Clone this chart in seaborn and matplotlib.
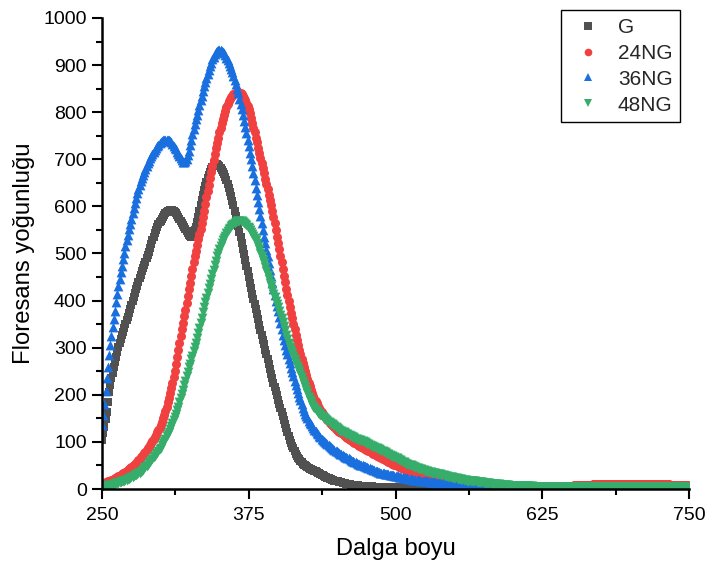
import numpy as np
import pandas as pd
import matplotlib
matplotlib.use("Agg")
import matplotlib.pyplot as plt
from matplotlib.lines import Line2D
from matplotlib.ticker import MultipleLocator
import seaborn as sns

# Emission wavelength grid (nm), 1 nm step
wavelength = np.arange(250, 751, 1)

# Fluorescence intensity for each sample, one value per wavelength (rows of 10 nm)
g = [
    104, 118, 132, 148, 164, 185, 205, 221, 236, 247,
    258, 269, 280, 291, 302, 310, 318, 326, 334, 342,
    350, 358, 366, 374, 383, 391, 400, 408, 416, 424,
    432, 440, 448, 455, 462, 469, 476, 483, 490, 497,
    504, 512, 520, 528, 536, 543, 550, 556, 562, 566,
    570, 574, 578, 582, 585, 588, 590, 591, 592, 592,
    592, 590, 588, 585, 582, 578, 574, 570, 565, 561,
    556, 551, 547, 543, 539, 537, 536, 538, 542, 549,
    556, 566, 578, 590, 602, 613, 624, 634, 643, 652,
    660, 667, 674, 679, 684, 687, 690, 690, 690, 688,
    686, 682, 678, 673, 668, 662, 656, 648, 640, 631,
    622, 612, 602, 591, 580, 569, 558, 546, 534, 522,
    510, 498, 486, 474, 462, 450, 438, 426, 415, 404,
    393, 382, 371, 360, 349, 338, 328, 317, 307, 296,
    286, 275, 265, 255, 245, 235, 226, 217, 208, 199,
    190, 181, 173, 164, 156, 147, 138, 129, 120, 112,
    104, 98, 92, 86, 80, 75, 70, 66, 63, 60,
    57, 54, 52, 50, 48, 46, 45, 43, 42, 41,
    40, 39, 38, 36, 35, 33, 32, 30, 29, 27,
    26, 25, 24, 23, 22, 21, 20, 19, 18, 17,
    16, 16, 15, 14, 14, 13, 12, 12, 11, 11,
    10, 10, 9, 9, 9, 8, 8, 8, 8, 7,
    7, 7, 7, 7, 7, 6, 6, 6, 6, 6,
    6, 5, 5, 5, 5, 5, 5, 5, 5, 5,
    5, 5, 5, 4, 4, 4, 4, 4, 4, 4,
    4, 4, 4, 4, 4, 4, 4, 4, 4, 4,
    4, 4, 4, 4, 4, 4, 4, 3, 3, 3,
    3, 3, 3, 3, 3, 3, 3, 3, 3, 3,
    3, 3, 3, 3, 3, 3, 3, 3, 3, 3,
    3, 3, 3, 3, 3, 3, 3, 3, 3, 3,
    3, 3, 3, 3, 3, 2, 2, 2, 2, 2,
    2, 2, 2, 2, 2, 2, 2, 2, 2, 2,
    2, 2, 2, 2, 2, 2, 2, 2, 2, 2,
    2, 2, 2, 2, 2, 2, 2, 2, 2, 2,
    2, 2, 2, 2, 2, 2, 2, 2, 2, 2,
    2, 2, 2, 2, 2, 2, 2, 2, 2, 2,
    2, 2, 2, 2, 2, 2, 2, 2, 2, 2,
    2, 2, 2, 2, 2, 2, 2, 2, 2, 2,
    2, 2, 2, 2, 2, 2, 2, 2, 2, 2,
    2, 2, 2, 2, 2, 2, 2, 2, 2, 2,
    2, 2, 2, 2, 2, 2, 2, 2, 2, 2,
    2, 2, 2, 2, 2, 2, 2, 2, 2, 2,
    2, 2, 2, 2, 2, 2, 2, 2, 2, 2,
    2, 2, 2, 2, 2, 2, 2, 2, 2, 2,
    2, 2, 2, 2, 2, 2, 2, 2, 2, 2,
    2, 2, 2, 2, 2, 2, 2, 2, 2, 2,
    2, 2, 2, 2, 2, 2, 2, 2, 2, 2,
    2, 2, 2, 2, 2, 2, 2, 2, 2, 2,
    2, 2, 2, 2, 2, 2, 2, 2, 2, 2,
    2, 2, 2, 2, 2, 2, 2, 2, 2, 2,
    2,
]

ng24 = [
    12, 12, 13, 14, 15, 16, 17, 18, 19, 20,
    22, 23, 24, 25, 27, 28, 30, 31, 33, 35,
    37, 38, 40, 42, 44, 46, 48, 50, 53, 55,
    58, 61, 64, 67, 70, 73, 76, 79, 83, 86,
    90, 93, 97, 101, 106, 110, 115, 120, 125, 130,
    136, 143, 150, 158, 166, 175, 184, 193, 203, 214,
    225, 238, 251, 265, 280, 295, 310, 324, 339, 353,
    367, 380, 394, 409, 424, 438, 453, 467, 481, 494,
    506, 518, 530, 541, 553, 565, 578, 591, 605, 619,
    633, 646, 660, 673, 686, 698, 711, 723, 735, 746,
    757, 767, 777, 786, 795, 803, 810, 817, 823, 828,
    832, 835, 838, 840, 841, 842, 842, 841, 840, 838,
    835, 831, 826, 820, 814, 806, 798, 788, 778, 767,
    757, 746, 736, 725, 714, 703, 692, 681, 670, 659,
    648, 636, 625, 613, 602, 590, 577, 564, 550, 536,
    522, 509, 495, 481, 467, 453, 439, 425, 412, 399,
    386, 374, 362, 350, 339, 328, 317, 306, 296, 286,
    276, 267, 259, 250, 242, 234, 226, 218, 211, 204,
    198, 192, 187, 182, 177, 172, 168, 164, 160, 156,
    153, 150, 147, 144, 141, 138, 136, 133, 131, 128,
    126, 124, 122, 120, 118, 116, 114, 112, 110, 108,
    106, 104, 103, 101, 100, 98, 97, 95, 94, 92,
    91, 89, 88, 86, 85, 83, 82, 81, 80, 78,
    77, 75, 74, 72, 71, 70, 69, 67, 66, 64,
    63, 62, 61, 59, 58, 57, 56, 54, 53, 52,
    51, 50, 49, 47, 46, 45, 44, 43, 42, 41,
    40, 39, 38, 37, 36, 35, 35, 34, 33, 32,
    32, 31, 30, 29, 29, 28, 27, 26, 26, 25,
    25, 24, 24, 23, 22, 21, 21, 20, 20, 19,
    19, 18, 18, 17, 17, 16, 16, 15, 15, 14,
    14, 13, 13, 12, 12, 12, 12, 11, 11, 10,
    10, 10, 10, 9, 9, 9, 9, 8, 8, 8,
    8, 8, 8, 7, 7, 7, 7, 7, 7, 6,
    6, 6, 6, 6, 6, 6, 6, 6, 5, 5,
    5, 5, 5, 5, 5, 5, 5, 5, 5, 5,
    5, 5, 5, 5, 5, 5, 5, 5, 5, 5,
    5, 5, 5, 5, 5, 5, 5, 5, 5, 5,
    5, 5, 5, 5, 5, 5, 5, 5, 5, 5,
    5, 5, 5, 5, 6, 6, 6, 6, 6, 6,
    6, 6, 6, 7, 7, 7, 7, 7, 7, 7,
    7, 7, 8, 8, 8, 8, 8, 8, 8, 8,
    9, 9, 9, 9, 9, 9, 9, 9, 10, 10,
    10, 10, 10, 10, 10, 10, 10, 11, 11, 11,
    11, 11, 11, 11, 11, 11, 11, 11, 11, 11,
    11, 11, 11, 11, 11, 11, 11, 11, 11, 11,
    11, 11, 11, 11, 11, 11, 11, 11, 11, 11,
    11, 11, 11, 11, 10, 10, 10, 10, 10, 10,
    10, 10, 10, 10, 10, 10, 10, 10, 10, 10,
    10, 10, 10, 10, 9, 9, 9, 9, 9, 9,
    9, 9, 9, 9, 9, 9, 9, 9, 9, 9,
    9,
]

ng36 = [
    135, 158, 180, 208, 235, 260, 285, 305, 325, 343,
    360, 378, 396, 413, 430, 445, 460, 474, 488, 502,
    515, 528, 540, 551, 562, 574, 585, 597, 608, 618,
    628, 637, 645, 653, 660, 667, 674, 680, 686, 692,
    697, 702, 707, 712, 716, 720, 724, 728, 731, 734,
    736, 738, 740, 741, 742, 742, 742, 741, 739, 736,
    733, 729, 725, 721, 716, 711, 706, 702, 698, 695,
    694, 696, 701, 709, 718, 730, 742, 754, 765, 775,
    785, 795, 805, 815, 825, 835, 845, 855, 864, 873,
    882, 890, 898, 905, 912, 918, 923, 927, 930, 931,
    932, 931, 930, 928, 925, 921, 916, 911, 905, 899,
    892, 885, 877, 869, 860, 850, 840, 829, 818, 806,
    793, 781, 768, 755, 742, 728, 714, 700, 685, 670,
    655, 640, 625, 610, 594, 579, 564, 550, 536, 522,
    508, 494, 480, 466, 452, 438, 425, 412, 400, 388,
    377, 365, 353, 340, 328, 317, 306, 296, 286, 276,
    267, 257, 248, 239, 230, 221, 212, 204, 196, 188,
    180, 173, 166, 160, 155, 150, 145, 141, 137, 133,
    130, 126, 123, 119, 116, 113, 110, 107, 104, 101,
    99, 97, 95, 93, 91, 89, 87, 85, 83, 81,
    80, 78, 77, 75, 74, 72, 71, 69, 68, 66,
    65, 63, 62, 60, 59, 58, 57, 55, 54, 53,
    52, 51, 50, 49, 48, 47, 46, 45, 44, 43,
    42, 41, 40, 39, 38, 37, 36, 35, 35, 34,
    33, 32, 32, 31, 31, 30, 30, 29, 29, 28,
    28, 27, 27, 26, 26, 25, 25, 24, 24, 23,
    23, 22, 22, 21, 21, 20, 20, 20, 20, 19,
    19, 18, 18, 17, 17, 17, 17, 16, 16, 15,
    15, 15, 15, 14, 14, 13, 13, 13, 13, 12,
    12, 12, 12, 11, 11, 10, 10, 10, 10, 9,
    9, 9, 9, 8, 8, 8, 8, 7, 7, 7,
    7, 6, 6, 6, 6, 6, 6, 5, 5, 5,
    5, 5, 5, 4, 4, 4, 4, 4, 4, 4,
    4, 3, 3, 3, 3, 3, 3, 3, 3, 3,
    3, 3, 3, 2, 2, 2, 2, 2, 2, 2,
    2, 2, 2, 2, 2, 2, 2, 2, 2, 2,
    2, 2, 2, 2, 2, 2, 2, 2, 2, 2,
    2, 2, 2, 2, 2, 2, 2, 2, 2, 2,
    2, 2, 2, 2, 2, 2, 2, 2, 2, 2,
    1, 1, 1, 1, 1, 1, 1, 1, 1, 1,
    1, 1, 1, 1, 1, 1, 1, 1, 1, 1,
    1, 1, 1, 1, 1, 1, 1, 1, 1, 1,
    1, 1, 1, 1, 1, 1, 1, 1, 1, 1,
    1, 1, 1, 1, 1, 1, 1, 1, 1, 1,
    1, 1, 1, 1, 1, 1, 1, 1, 1, 1,
    1, 1, 1, 1, 1, 1, 1, 1, 1, 1,
    1, 1, 1, 1, 1, 1, 1, 1, 1, 1,
    1, 1, 1, 1, 1, 1, 1, 1, 1, 1,
    1, 1, 1, 1, 1, 1, 1, 1, 1, 1,
    1, 1, 1, 1, 1, 1, 1, 1, 1, 1,
    1,
]

ng48 = [
    5, 5, 6, 6, 7, 7, 8, 8, 9, 9,
    10, 11, 12, 12, 13, 14, 15, 16, 17, 18,
    19, 20, 21, 22, 24, 25, 26, 27, 29, 30,
    32, 33, 35, 37, 39, 41, 44, 46, 49, 52,
    55, 58, 61, 64, 67, 70, 74, 77, 81, 84,
    88, 93, 98, 102, 107, 112, 117, 122, 128, 134,
    140, 146, 153, 160, 167, 175, 184, 193, 202, 211,
    221, 230, 240, 249, 258, 266, 275, 283, 292, 301,
    311, 321, 331, 342, 353, 364, 375, 386, 396, 406,
    416, 426, 436, 446, 456, 466, 476, 485, 494, 502,
    509, 516, 522, 528, 533, 538, 543, 547, 551, 555,
    558, 561, 563, 565, 567, 568, 569, 569, 569, 568,
    567, 565, 563, 560, 557, 554, 550, 546, 542, 538,
    533, 528, 522, 516, 509, 502, 495, 487, 479, 471,
    463, 454, 445, 437, 430, 422, 415, 407, 400, 393,
    386, 378, 370, 362, 354, 346, 337, 328, 319, 310,
    302, 296, 289, 282, 275, 268, 262, 256, 250, 244,
    237, 230, 223, 217, 210, 203, 196, 190, 184, 179,
    175, 171, 168, 165, 162, 159, 157, 155, 153, 151,
    149, 147, 145, 143, 141, 139, 137, 135, 133, 131,
    129, 127, 126, 124, 123, 121, 120, 118, 117, 116,
    115, 113, 112, 111, 110, 108, 107, 106, 105, 104,
    103, 102, 101, 100, 99, 97, 96, 95, 94, 92,
    91, 90, 89, 87, 86, 85, 84, 82, 81, 80,
    79, 78, 77, 75, 74, 72, 71, 70, 69, 67,
    66, 65, 64, 62, 61, 59, 58, 57, 56, 54,
    53, 52, 51, 50, 49, 48, 47, 46, 45, 44,
    43, 42, 42, 41, 40, 39, 39, 38, 37, 36,
    36, 35, 35, 34, 33, 32, 32, 31, 31, 30,
    30, 29, 28, 27, 27, 26, 26, 25, 25, 24,
    24, 23, 23, 22, 22, 21, 21, 20, 20, 19,
    19, 18, 18, 17, 17, 17, 17, 16, 16, 15,
    15, 14, 14, 14, 14, 13, 13, 12, 12, 12,
    12, 11, 11, 11, 11, 10, 10, 10, 10, 9,
    9, 9, 9, 8, 8, 8, 8, 7, 7, 7,
    7, 7, 7, 7, 7, 6, 6, 6, 6, 6,
    6, 6, 6, 6, 6, 6, 6, 5, 5, 5,
    5, 5, 5, 5, 5, 5, 5, 5, 5, 5,
    5, 5, 5, 5, 5, 5, 5, 5, 5, 5,
    5, 5, 5, 5, 5, 5, 5, 5, 5, 5,
    5, 5, 5, 5, 5, 5, 5, 5, 5, 5,
    5, 5, 5, 5, 5, 5, 5, 5, 5, 5,
    5, 5, 5, 5, 5, 5, 5, 5, 5, 5,
    5, 5, 5, 5, 5, 5, 5, 5, 5, 5,
    5, 5, 5, 5, 5, 5, 5, 5, 5, 5,
    5, 5, 5, 5, 5, 5, 5, 5, 5, 5,
    5, 5, 5, 5, 5, 5, 5, 5, 5, 5,
    5, 5, 5, 5, 5, 5, 5, 5, 5, 5,
    5, 5, 5, 5, 5, 5, 5, 5, 5, 5,
    5, 5, 5, 5, 5, 5, 5, 5, 5, 5,
    5,
]

series_names = ["G", "24NG", "36NG", "48NG"]
series_values = [g, ng24, ng36, ng48]
colors = ["#515151", "#F14040", "#1A6FDF", "#37AD6B"]
markers = ["s", "o", "^", "v"]
marker_area = [34, 42, 50, 50]

df = pd.concat(
    [pd.DataFrame({"wavelength": wavelength, "intensity": vals, "sample": name})
     for name, vals in zip(series_names, series_values)],
    ignore_index=True,
)

sns.set_style("ticks")
plt.rcParams["font.family"] = ["Liberation Sans", "DejaVu Sans"]

fig = plt.figure(figsize=(7.07, 5.67), dpi=100)
ax = fig.add_axes([102 / 707, 1 - 489 / 567, 587 / 707, 471 / 567])

for name, color, marker, area in zip(series_names, colors, markers, marker_area):
    sns.scatterplot(
        data=df[df["sample"] == name], x="wavelength", y="intensity",
        color=color, marker=marker, s=area, linewidth=0, ax=ax, legend=False,
    )

ax.set_xlim(250, 750)
ax.set_ylim(0, 1000)
ax.xaxis.set_major_locator(MultipleLocator(125))
ax.xaxis.set_minor_locator(MultipleLocator(62.5))
ax.yaxis.set_major_locator(MultipleLocator(100))
ax.yaxis.set_minor_locator(MultipleLocator(50))
ax.tick_params(which="major", direction="out", length=7, width=1.5,
               labelsize=14, color="black", labelcolor="black", pad=4)
ax.tick_params(which="minor", direction="out", length=4, width=1.5, color="black")
ax.tick_params(axis="x", which="major", pad=6)

sns.despine(ax=ax)
for side in ["left", "bottom"]:
    ax.spines[side].set_linewidth(1.8)
    ax.spines[side].set_color("black")

ax.set_xlabel("Dalga boyu", fontsize=17, labelpad=10, color="black")
ax.set_ylabel("Floresans yoğunluğu", fontsize=17.2, labelpad=6, color="black")

handles = [
    Line2D([], [], linestyle="none", marker=m, color=c, markersize=5.5, markeredgewidth=0)
    for m, c in zip(markers, colors)
]
leg = ax.legend(
    handles, series_names, loc="upper left",
    bbox_to_anchor=(561 / 707, 1 - 10 / 567), bbox_transform=fig.transFigure,
    fontsize=15, frameon=True, fancybox=False, framealpha=1,
    edgecolor="black", borderpad=0.38, labelspacing=0.33,
    handlelength=1.85, handletextpad=0.5, borderaxespad=0,
)
leg.get_frame().set_linewidth(1.0)

fig.savefig("out.png", dpi=100)
